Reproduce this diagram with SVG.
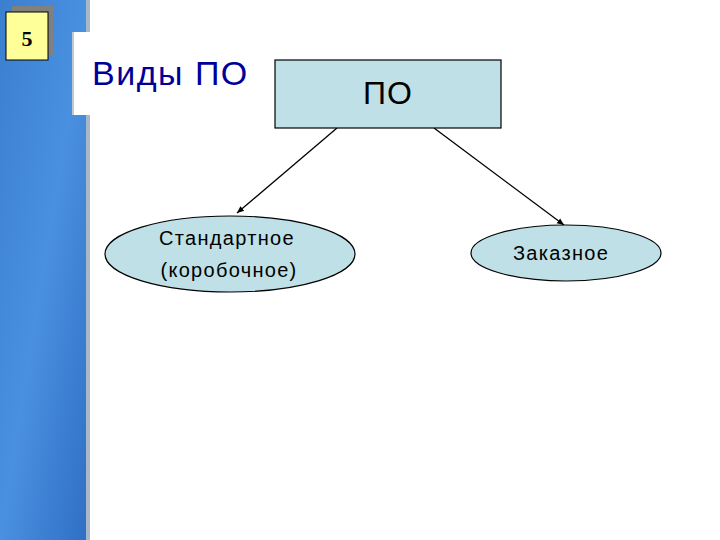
<svg xmlns="http://www.w3.org/2000/svg" width="720" height="540" viewBox="0 0 720 540">
<defs>
<linearGradient id="bg" x1="0" y1="0" x2="1" y2="1">
<stop offset="0" stop-color="#3a7fd0"/><stop offset="0.5" stop-color="#4a90e0"/><stop offset="1" stop-color="#2f6fc4"/>
</linearGradient>
<marker id="ah" markerWidth="8" markerHeight="8" refX="7" refY="4" orient="auto" markerUnits="userSpaceOnUse">
<path d="M0,1 L7,4 L0,7 Z" fill="#000"/>
</marker>
<style>
.node{fill:#bfe0e6;stroke:#000;stroke-width:1.2}
.t{font-family:'Liberation Sans',Arial,sans-serif;fill:#000;text-anchor:middle}
.n{font-size:20px;letter-spacing:1.3px}
.c{stroke:#000;stroke-width:1.3;fill:none;marker-end:url(#ah)}
</style>
</defs>
<rect width="720" height="540" fill="#fff"/>
<rect x="0" y="0" width="88" height="540" fill="url(#bg)"/>
<rect x="86" y="0" width="4" height="540" fill="#a8b8c8"/>
<rect x="72" y="32" width="18" height="83" fill="#fff"/>
<rect x="72" y="32" width="2" height="83" fill="#c0c8d0"/>
<rect x="12" y="6" width="42" height="50" fill="#808080"/>
<rect x="6" y="12" width="42" height="48" fill="#ffff99" stroke="#000" stroke-width="1"/>
<text x="27" y="46" font-family="'Liberation Serif',serif" font-size="22" font-weight="bold" text-anchor="middle">5</text>
<text x="92" y="85" font-family="'Liberation Sans',Arial,sans-serif" font-size="34" letter-spacing="1.5" fill="#000099">Виды ПО</text>
<g id="connectors">
<line class="c" x1="337" y1="128" x2="237" y2="213"/>
<line class="c" x1="434" y1="128" x2="564" y2="225"/>
</g>
<g id="po"><rect class="node" x="275" y="60" width="226" height="68"/><text class="t" x="388" y="104" font-size="32" letter-spacing="1">ПО</text></g>
<g id="std"><ellipse class="node" cx="230" cy="254" rx="125" ry="38"/><text class="t n" x="227" y="245">Стандартное</text><text class="t n" x="229" y="277">(коробочное)</text></g>
<g id="zak"><ellipse class="node" cx="566" cy="253" rx="95" ry="28"/><text class="t n" x="561" y="260">Заказное</text></g>
</svg>
